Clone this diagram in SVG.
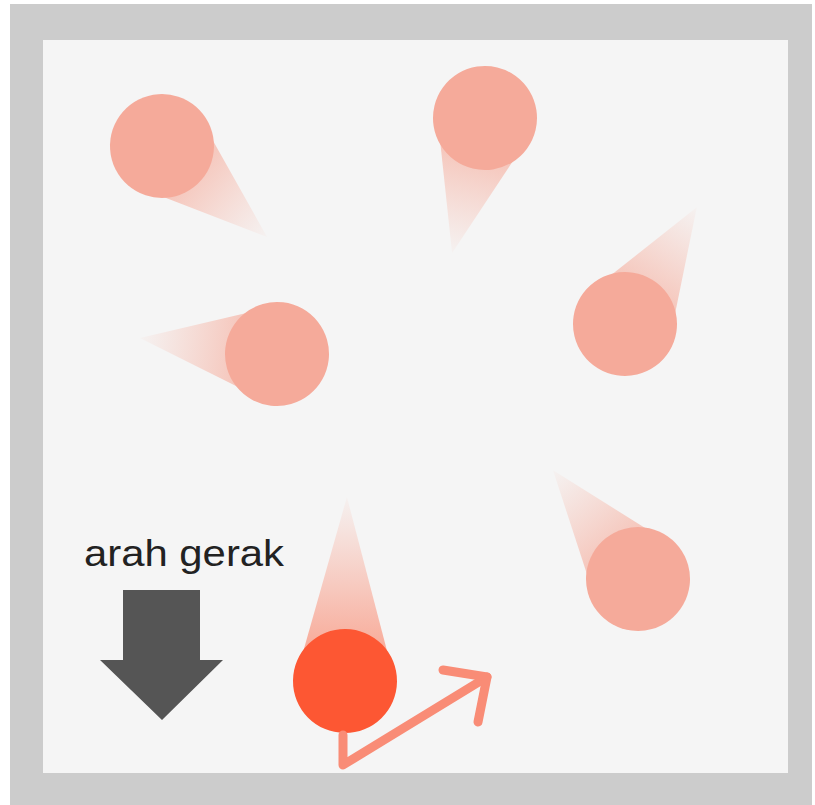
<svg xmlns="http://www.w3.org/2000/svg" width="815" height="805" viewBox="0 0 815 805">
  <defs>
    <linearGradient id="tailPink" x1="0" y1="0" x2="0" y2="1">
      <stop offset="0" stop-color="#f7b3a3" stop-opacity="0.05"/>
      <stop offset="1" stop-color="#f5a897" stop-opacity="0.85"/>
    </linearGradient>
    <linearGradient id="tailRed" x1="0" y1="0" x2="0" y2="1">
      <stop offset="0" stop-color="#f9a08c" stop-opacity="0.05"/>
      <stop offset="1" stop-color="#f9967f" stop-opacity="0.95"/>
    </linearGradient>
  </defs>
  <style>
    .ball { fill: #f5aa9a; }
    .tail { fill: url(#tailPink); }
    .red { fill: #fd5733; }
    .redtail { fill: url(#tailRed); }
    .label { font-family: "Liberation Sans", Arial, sans-serif; font-size: 37px; fill: #222; }
    .bounce { fill: none; stroke: #f98c76; stroke-width: 9; stroke-linecap: round; stroke-linejoin: round; }
  </style>

  <rect x="10" y="4" width="802" height="801" fill="#cccccc"/>
  <rect x="43" y="40" width="745" height="733" fill="#f5f5f5"/>

  <g id="ball1" transform="translate(162,146) rotate(130.9)">
    <polygon class="tail" points="0,-139 -50,0 50,0"/>
    <circle class="ball" cx="0" cy="0" r="52"/>
  </g>
  <g id="ball2" transform="translate(485,118) rotate(-166.3)">
    <polygon class="tail" points="0,-139 -50,0 50,0"/>
    <circle class="ball" cx="0" cy="0" r="52"/>
  </g>
  <g id="ball3" transform="translate(625,324) rotate(31.6)">
    <polygon class="tail" points="0,-137 -50,0 50,0"/>
    <circle class="ball" cx="0" cy="0" r="52"/>
  </g>
  <g id="ball4" transform="translate(277,354) rotate(-83.3)">
    <polygon class="tail" points="0,-138 -50,0 50,0"/>
    <circle class="ball" cx="0" cy="0" r="52"/>
  </g>
  <g id="ball5" transform="translate(638,579) rotate(-38)">
    <polygon class="tail" points="0,-138 -50,0 50,0"/>
    <circle class="ball" cx="0" cy="0" r="52"/>
  </g>
  <g id="ballRed" transform="translate(345,681) rotate(0.6)">
    <polygon class="redtail" points="0,-184 -50,0 50,0"/>
    <circle class="red" cx="0" cy="0" r="52"/>
  </g>

  <g id="connectors">
    <polyline class="bounce" points="343,735 343,765 487,677"/>
    <polyline class="bounce" points="443,670 487,677 478,722"/>
  </g>

  <g id="direction">
    <text class="label" x="84" y="566" textLength="200" lengthAdjust="spacingAndGlyphs">arah gerak</text>
    <polygon points="123,590 200,590 200,660 223,660 162,720 100,660 123,660" fill="#555555"/>
  </g>
</svg>
